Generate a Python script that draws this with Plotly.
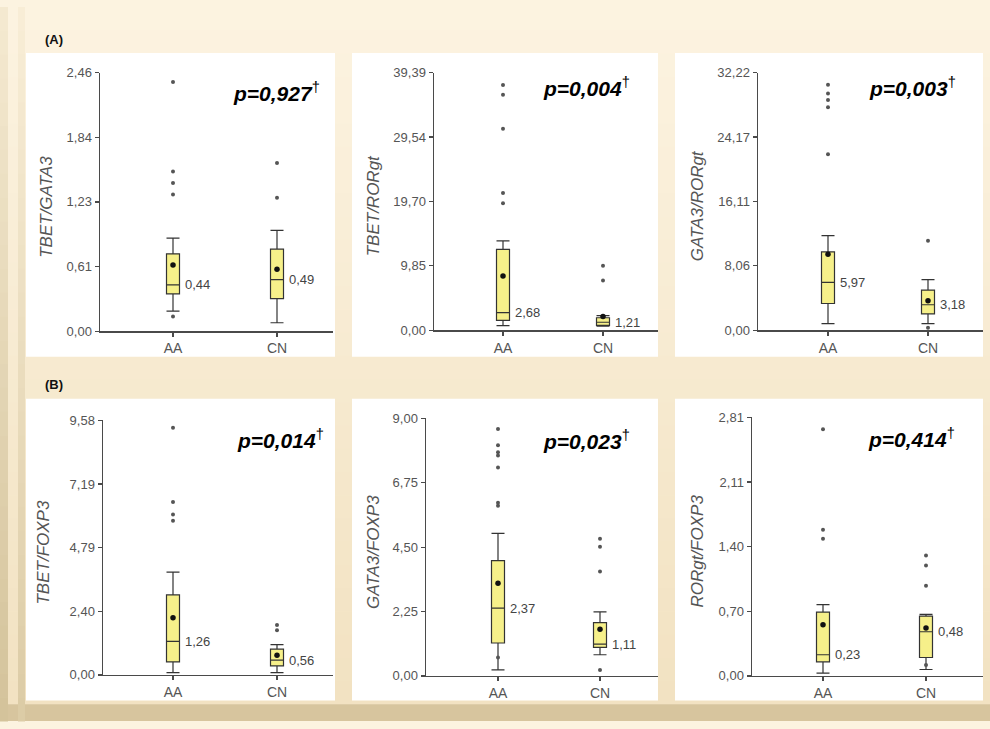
import plotly.graph_objects as go

W, H = 990, 729

# ---------------- data ----------------
categories = ["AA", "CN"]
y_titles = ["TBET/GATA3", "TBET/RORgt", "GATA3/RORgt",
            "TBET/FOXP3", "GATA3/FOXP3", "RORgt/FOXP3"]
p_values = ["0,927", "0,004", "0,003", "0,014", "0,023", "0,414"]
y_max = [2.46, 39.39, 32.22, 9.58, 9.00, 2.81]
y_tick_labels = [
    ["0,00", "0,61", "1,23", "1,84", "2,46"],
    ["0,00", "9,85", "19,70", "29,54", "39,39"],
    ["0,00", "8,06", "16,11", "24,17", "32,22"],
    ["0,00", "2,40", "4,79", "7,19", "9,58"],
    ["0,00", "2,25", "4,50", "6,75", "9,00"],
    ["0,00", "0,70", "1,40", "2,11", "2,81"],
]
q1 = [[0.354, 0.31], [1.50, 0.75], [3.34, 2.04], [0.49, 0.34], [1.15, 1.00], [0.153, 0.20]]
median = [[0.44, 0.49], [2.68, 1.21], [5.97, 3.18], [1.26, 0.56], [2.37, 1.11], [0.23, 0.48]]
q3 = [[0.736, 0.78], [12.36, 1.90], [9.79, 5.02], [3.01, 0.97], [4.03, 1.86], [0.694, 0.651]]
lower_whisker = [[0.19, 0.08], [0.70, 0.60], [0.82, 0.82], [0.09, 0.09], [0.21, 0.74], [0.03, 0.07]]
upper_whisker = [[0.885, 0.96], [13.66, 2.24], [11.83, 6.32], [3.87, 1.14], [4.98, 2.24], [0.776, 0.67]]
means = [[0.63, 0.59], [8.3, 2.09], [9.5, 3.67], [2.15, 0.74], [3.24, 1.63], [0.555, 0.52]]
outliers_aa = [
    [2.37, 1.52, 1.41, 1.30, 0.14],
    [37.5, 36.0, 30.8, 21.0, 19.4],
    [30.7, 29.6, 28.8, 27.9, 22.0],
    [9.30, 6.51, 6.04, 5.80],
    [8.63, 8.06, 7.82, 7.70, 7.28, 6.05, 5.95, 0.64],
    [2.68, 1.59, 1.49],
]
outliers_cn = [
    [1.60, 1.27],
    [9.87, 7.58],
    [11.2, 0.30],
    [1.88, 1.68],
    [4.79, 4.51, 3.65, 0.21],
    [1.31, 1.20, 0.98, 0.12],
]
panel_tags = ["(A)", "(B)"]

# ---------------- layout geometry (pixels) ----------------
axis_left = [100, 434, 758, 103, 426, 752]
axis_right = [333, 658, 983, 333, 658, 983]
axis_top = [67, 67, 67, 422, 420, 419]
axis_bottom = [331, 330, 330, 682, 683, 683]
aa_px = [173, 503, 828, 173, 498, 823]
cn_px = [277, 603, 928, 277, 600, 926]
panel_rects = [(26, 47, 335, 357), (352, 47, 658, 357), (675, 47, 983, 357),
               (26, 400, 335, 708), (352, 400, 658, 708), (675, 400, 983, 708)]
p_right = [322, 632, 958, 326, 632, 957]
p_y = [87, 82, 82, 441, 442, 440]
title_x = [47, 373, 697, 44, 373, 698]
box_px = 13

FONT = "Liberation Sans, Arial, sans-serif"
BOX_FILL = "#f6f08a"
LINE = "#333333"
AXIS = "#4a4a4a"
TXT = "#555555"


def px(x):
    return x / W


def py(y):
    return 1 - y / H


def lerp(c1, c2, t):
    return "rgb(%d,%d,%d)" % tuple(round(a + (b - a) * t) for a, b in zip(c1, c2))


shapes = []
# background gradient (cream at top -> tan at bottom)
top_c, low_c = (252, 243, 224), (242, 226, 194)
n = 30
for i in range(n):
    y0 = i * 712 / n
    y1 = (i + 1) * 712 / n + 0.5
    shapes.append(dict(type="rect", xref="paper", yref="paper", x0=0, x1=1,
                       y0=py(y1), y1=py(y0), line=dict(width=0),
                       fillcolor=lerp(top_c, low_c, i / (n - 1)), layer="below"))
# bottom band
shapes.append(dict(type="rect", xref="paper", yref="paper", x0=0, x1=1,
                   y0=0, y1=py(712), line=dict(width=0),
                   fillcolor="rgb(215,197,158)", layer="below"))
# left frame strips
for i in range(n):
    y0 = i * 729 / n
    y1 = (i + 1) * 729 / n + 0.5
    t = i / (n - 1)
    shapes.append(dict(type="rect", xref="paper", yref="paper", x0=0, x1=px(8),
                       y0=py(y1), y1=py(y0), line=dict(width=0),
                       fillcolor=lerp((244, 233, 208), (212, 195, 155), t), layer="below"))
    shapes.append(dict(type="rect", xref="paper", yref="paper", x0=px(18), x1=px(25),
                       y0=py(y1), y1=py(y0), line=dict(width=0),
                       fillcolor=lerp((248, 237, 214), (220, 204, 166), t), layer="below"))
# white panels
for (x0, y0, x1, y1) in panel_rects:
    shapes.append(dict(type="rect", xref="paper", yref="paper", x0=px(x0), x1=px(x1),
                       y0=py(y1), y1=py(y0), line=dict(width=0),
                       fillcolor="#ffffff", layer="below"))

fig = go.Figure()
annotations = []
layout_axes = {}

for k in range(6):
    xa = "x" if k == 0 else "x%d" % (k + 1)
    ya = "y" if k == 0 else "y%d" % (k + 1)
    xkey = "xaxis" if k == 0 else "xaxis%d" % (k + 1)
    ykey = "yaxis" if k == 0 else "yaxis%d" % (k + 1)

    unit = cn_px[k] - aa_px[k]
    r0 = -(aa_px[k] - axis_left[k]) / unit
    r1 = 1 + (axis_right[k] - cn_px[k]) / unit
    bw = box_px / unit

    fig.add_trace(go.Box(
        x=categories, q1=q1[k], median=median[k], q3=q3[k],
        lowerfence=lower_whisker[k], upperfence=upper_whisker[k],
        fillcolor=BOX_FILL, line=dict(color=LINE, width=1.2),
        width=bw, whiskerwidth=1, boxpoints=False,
        xaxis=xa, yaxis=ya, showlegend=False, hoverinfo="skip"))

    fig.add_trace(go.Scatter(
        x=[categories[0]] * len(outliers_aa[k]) + [categories[1]] * len(outliers_cn[k]),
        y=outliers_aa[k] + outliers_cn[k], mode="markers",
        marker=dict(size=4, color="#555555"), cliponaxis=False,
        xaxis=xa, yaxis=ya, showlegend=False, hoverinfo="skip"))

    fig.add_trace(go.Scatter(
        x=categories, y=means[k], mode="markers",
        marker=dict(size=5.5, color="#111111"), cliponaxis=False,
        xaxis=xa, yaxis=ya, showlegend=False, hoverinfo="skip"))

    ym = y_max[k]
    layout_axes[xkey] = dict(
        domain=[px(axis_left[k]), px(axis_right[k])], range=[r0, r1],
        type="category", categoryorder="array", categoryarray=categories,
        anchor=ya, showline=True, linecolor=AXIS, linewidth=1.5,
        ticks="outside", ticklen=4, tickcolor=AXIS, tickwidth=1.2,
        tickfont=dict(size=14, color=TXT, family=FONT),
        showgrid=False, zeroline=False, fixedrange=True)
    layout_axes[ykey] = dict(
        domain=[py(axis_bottom[k]), py(axis_top[k])],
        range=[-ym * 1e-4, ym * (1 + 1e-4)],
        anchor=xa, showline=True, linecolor=AXIS, linewidth=1.5,
        ticks="outside", ticklen=4, tickcolor=AXIS, tickwidth=1.2,
        tickvals=[ym * i / 4 for i in range(5)], ticktext=y_tick_labels[k],
        tickfont=dict(size=13, color=TXT, family=FONT),
        showgrid=False, zeroline=False, fixedrange=True)

    # median labels
    for i, c in enumerate(categories):
        annotations.append(dict(
            x=i, y=median[k][i], xref=xa, yref=ya, text=("%.2f" % median[k][i]).replace(".", ","),
            showarrow=False, xanchor="left", yanchor="middle", xshift=box_px / 2 + 3,
            font=dict(size=13, color="#444444", family=FONT)))

    # p-value
    annotations.append(dict(
        x=px(p_right[k]), y=py(p_y[k]), xref="paper", yref="paper",
        text="<b><i>p=%s</i></b><sup>†</sup>" % p_values[k],
        showarrow=False, xanchor="right", yanchor="middle",
        font=dict(size=21, color="#000000", family=FONT)))

    # y title
    annotations.append(dict(
        x=px(title_x[k]), y=py((axis_top[k] + axis_bottom[k]) / 2 + 5),
        xref="paper", yref="paper", text="<i>%s</i>" % y_titles[k],
        showarrow=False, textangle=-90, xanchor="center", yanchor="middle",
        font=dict(size=17, color=TXT, family=FONT)))

annotations.append(dict(x=px(43), y=py(33), xref="paper", yref="paper",
                        text="<b>%s</b>" % panel_tags[0], showarrow=False,
                        xanchor="left", yanchor="middle",
                        font=dict(size=13, color="#111111", family=FONT)))
annotations.append(dict(x=px(43), y=py(385), xref="paper", yref="paper",
                        text="<b>%s</b>" % panel_tags[1], showarrow=False,
                        xanchor="left", yanchor="middle",
                        font=dict(size=13, color="#111111", family=FONT)))

fig.update_layout(
    width=W, height=H, margin=dict(l=0, r=0, t=0, b=0),
    paper_bgcolor="#fcf3e0", plot_bgcolor="rgba(0,0,0,0)",
    shapes=shapes, annotations=annotations, boxmode="overlay",
    font=dict(family=FONT), showlegend=False, **layout_axes)

fig.write_html(
    "out.html",
    config={"displayModeBar": False, "staticPlot": True},
    post_script=(
        "document.body.style.margin='0px';"
        "document.body.style.overflow='hidden';"
        "var gd=document.getElementById('{plot_id}');"
        "gd.style.position='absolute';gd.style.top='0px';gd.style.left='0px';"
    ),
)
